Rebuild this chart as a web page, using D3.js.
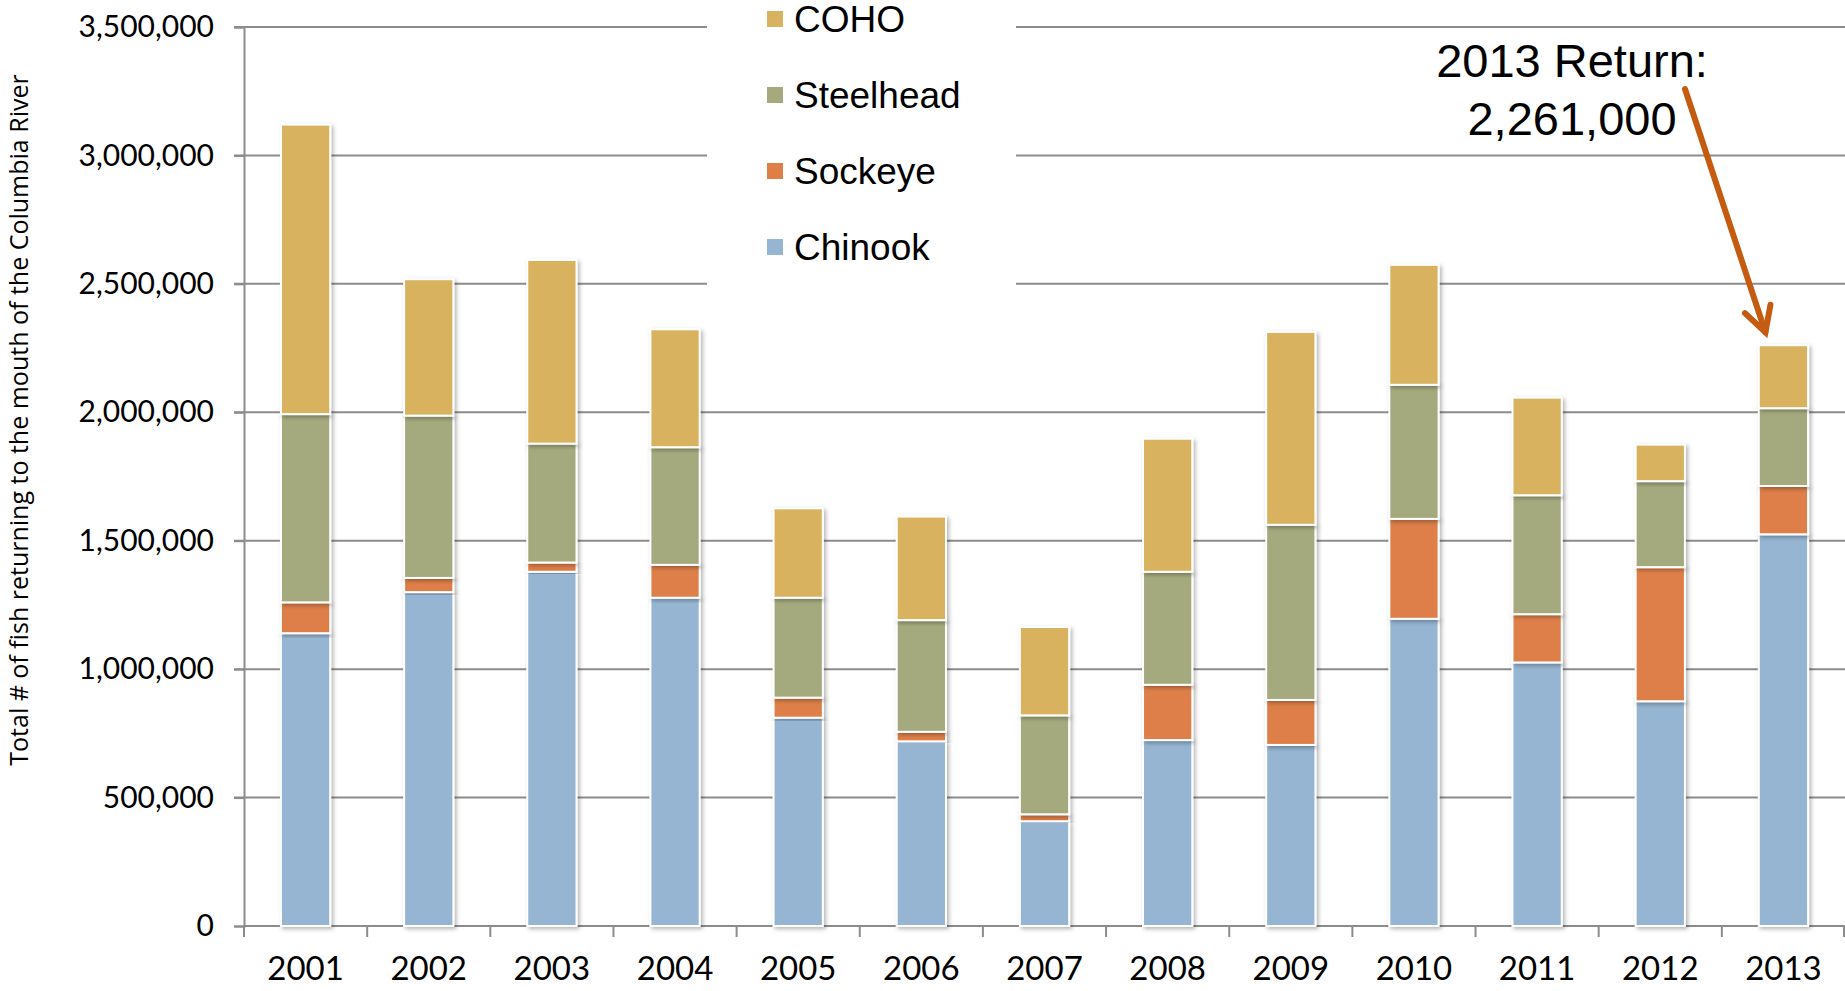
<!DOCTYPE html>
<html>
<head>
<meta charset="utf-8">
<script src="https://cdn.jsdelivr.net/npm/d3@7"></script>
<style>
  html, body { margin: 0; padding: 0; background: #fff; overflow: hidden; }
  svg { display: block; }
</style>
</head>
<body>
<div id="chart"></div>
<script>
// datos
var years = ["2001","2002","2003","2004","2005","2006","2007","2008","2009","2010","2011","2012","2013"];
var chinook   = [1140000,1300000,1379000,1278000,811000,719000,408000,724000,705000,1196000,1026000,875000,1525000];
var sockeye   = [120000,55000,36000,128000,78000,37000,27000,215000,175000,389000,188000,522000,188000];
var steelhead = [733000,632000,463000,458000,389000,435000,385000,440000,682000,522000,463000,335000,303000];
var coho      = [1127000,531000,715000,459000,348000,403000,344000,518000,751000,467000,380000,142000,245000];
var seriesNames = ["Chinook","Sockeye","Steelhead","COHO"];
var yTicks = [0,500000,1000000,1500000,2000000,2500000,3000000,3500000];
var colors = { Chinook: "#96b5d2", Sockeye: "#de7f48", Steelhead: "#a5aa7e", COHO: "#d8b25f" };

var W = 1845, H = 991;
var margin = { top: 27, right: 0, bottom: 65, left: 244 };

var svg = d3.select("#chart").append("svg")
    .attr("width", W)
    .attr("height", H);

var defs = svg.append("defs");
var f = defs.append("filter").attr("id", "sombra")
    .attr("x", "-20%").attr("y", "-5%").attr("width", "150%").attr("height", "120%");
f.append("feDropShadow").attr("dx", 2).attr("dy", 2).attr("stdDeviation", 2)
    .attr("flood-color", "#000").attr("flood-opacity", 0.3);

var table = years.map(function(y, i) {
    return { year: y, Chinook: chinook[i], Sockeye: sockeye[i], Steelhead: steelhead[i], COHO: coho[i] };
});

var x = d3.scaleBand()
    .domain(years)
    .range([margin.left, W - margin.right])
    .paddingInner(0.6)
    .paddingOuter(0.3);

var y = d3.scaleLinear()
    .domain([0, 3500000])
    .range([H - margin.bottom, margin.top]);

// lineas de la cuadricula
svg.append("g")
    .selectAll("line")
    .data(yTicks.slice(1))
    .enter().append("line")
    .attr("x1", margin.left - 10)
    .attr("x2", W - margin.right)
    .attr("y1", d => y(d))
    .attr("y2", d => y(d))
    .attr("stroke", "#8c8c8c")
    .attr("stroke-width", 2);

// eje Y
var yAxis = svg.append("g")
    .attr("transform", "translate(" + margin.left + ",0)")
    .call(d3.axisLeft(y).tickValues(yTicks).tickFormat(d3.format(",")).tickSize(10).tickPadding(20));
yAxis.select(".domain").attr("stroke", "#8c8c8c").attr("stroke-width", 2);
yAxis.selectAll(".tick line").attr("stroke", "#8c8c8c").attr("stroke-width", 2);
yAxis.selectAll("text")
    .attr("font-family", "Lato, 'DejaVu Sans', sans-serif")
    .attr("font-size", 30)
    .attr("fill", "#000");

// eje X
var step = x.step();
var gap = (step - x.bandwidth()) / 2;
var xg = svg.append("g");
xg.append("line")
    .attr("x1", margin.left).attr("x2", W - margin.right)
    .attr("y1", y(0)).attr("y2", y(0))
    .attr("stroke", "#8c8c8c").attr("stroke-width", 2);
xg.selectAll(".xt")
    .data(years.concat(["fin"]))
    .enter().append("line")
    .attr("class", "xt")
    .attr("x1", (d, i) => i < years.length ? x(d) - gap : x(years[years.length - 1]) + x.bandwidth() + gap - 1)
    .attr("x2", (d, i) => i < years.length ? x(d) - gap : x(years[years.length - 1]) + x.bandwidth() + gap - 1)
    .attr("y1", y(0)).attr("y2", y(0) + 11)
    .attr("stroke", "#8c8c8c").attr("stroke-width", 2);
xg.selectAll(".xl")
    .data(years)
    .enter().append("text")
    .attr("x", d => x(d) + x.bandwidth() / 2)
    .attr("y", y(0) + 54)
    .attr("text-anchor", "middle")
    .attr("font-family", "Lato, 'DejaVu Sans', sans-serif")
    .attr("font-size", 33)
    .text(d => d);

// barras apiladas
var stack = d3.stack().keys(seriesNames)(table);
var layers = svg.append("g").selectAll("g")
    .data(stack)
    .enter().append("g")
    .attr("fill", d => colors[d.key]);

layers.selectAll("rect")
    .data(d => d)
    .enter().append("rect")
    .attr("x", d => x(d.data.year))
    .attr("y", d => y(d[1]))
    .attr("width", x.bandwidth())
    .attr("height", d => y(d[0]) - y(d[1]))
    .attr("stroke", "#fff")
    .attr("stroke-width", 2)
    .attr("filter", "url(#sombra)");

// leyenda
var leg = svg.append("g");
leg.append("rect")
    .attr("x", 707).attr("y", 0)
    .attr("width", 309).attr("height", 292)
    .attr("fill", "#fff");
var legOrder = ["COHO","Steelhead","Sockeye","Chinook"];
legOrder.forEach(function(name, i) {
    var cy = 19 + i * 76;
    leg.append("rect")
        .attr("x", 767).attr("y", cy - 8)
        .attr("width", 16).attr("height", 16)
        .attr("fill", colors[name]);
    leg.append("text")
        .attr("x", 794).attr("y", cy)
        .attr("dy", "0.35em")
        .attr("font-family", "'Liberation Sans', Arial, sans-serif")
        .attr("font-size", 37)
        .text(name);
});

// titulo del eje Y
svg.append("text")
    .attr("transform", "translate(19," + 420 + ") rotate(-90)")
    .attr("text-anchor", "middle")
    .attr("dy", "0.35em")
    .attr("font-family", "'Open Sans', sans-serif")
    .attr("font-size", 25)
    .text("Total # of fish returning to the mouth of the Columbia River");

// anotacion 2013
var last = table[table.length - 1];
var total2013 = last.Chinook + last.Sockeye + last.Steelhead + last.COHO;
var ann = svg.append("g")
    .attr("font-family", "'Liberation Sans', Arial, sans-serif")
    .attr("font-size", 47)
    .attr("text-anchor", "middle");
ann.append("text").attr("x", 1572).attr("y", 77).text("2013 Return:");
ann.append("text").attr("x", 1572).attr("y", 135).text(d3.format(",")(total2013));

var tipX = x("2013") + x.bandwidth() / 2 - 18;
var tipY = y(total2013) - 13;
var startX = 1685, startY = 89;
var ang = Math.atan2(tipY - startY, tipX - startX);
var hl = 28;
var arrow = svg.append("g")
    .attr("stroke", "#c55a11")
    .attr("stroke-width", 6)
    .attr("stroke-linecap", "round")
    .attr("fill", "none");
arrow.append("line").attr("x1", startX).attr("y1", startY).attr("x2", tipX).attr("y2", tipY);
arrow.append("polyline")
    .attr("points", [
        [tipX - hl * Math.cos(ang - 0.5), tipY - hl * Math.sin(ang - 0.5)],
        [tipX, tipY],
        [tipX - hl * Math.cos(ang + 0.5), tipY - hl * Math.sin(ang + 0.5)]
    ].map(p => p.join(",")).join(" "))
    .attr("stroke-linejoin", "miter");
</script>
</body>
</html>
